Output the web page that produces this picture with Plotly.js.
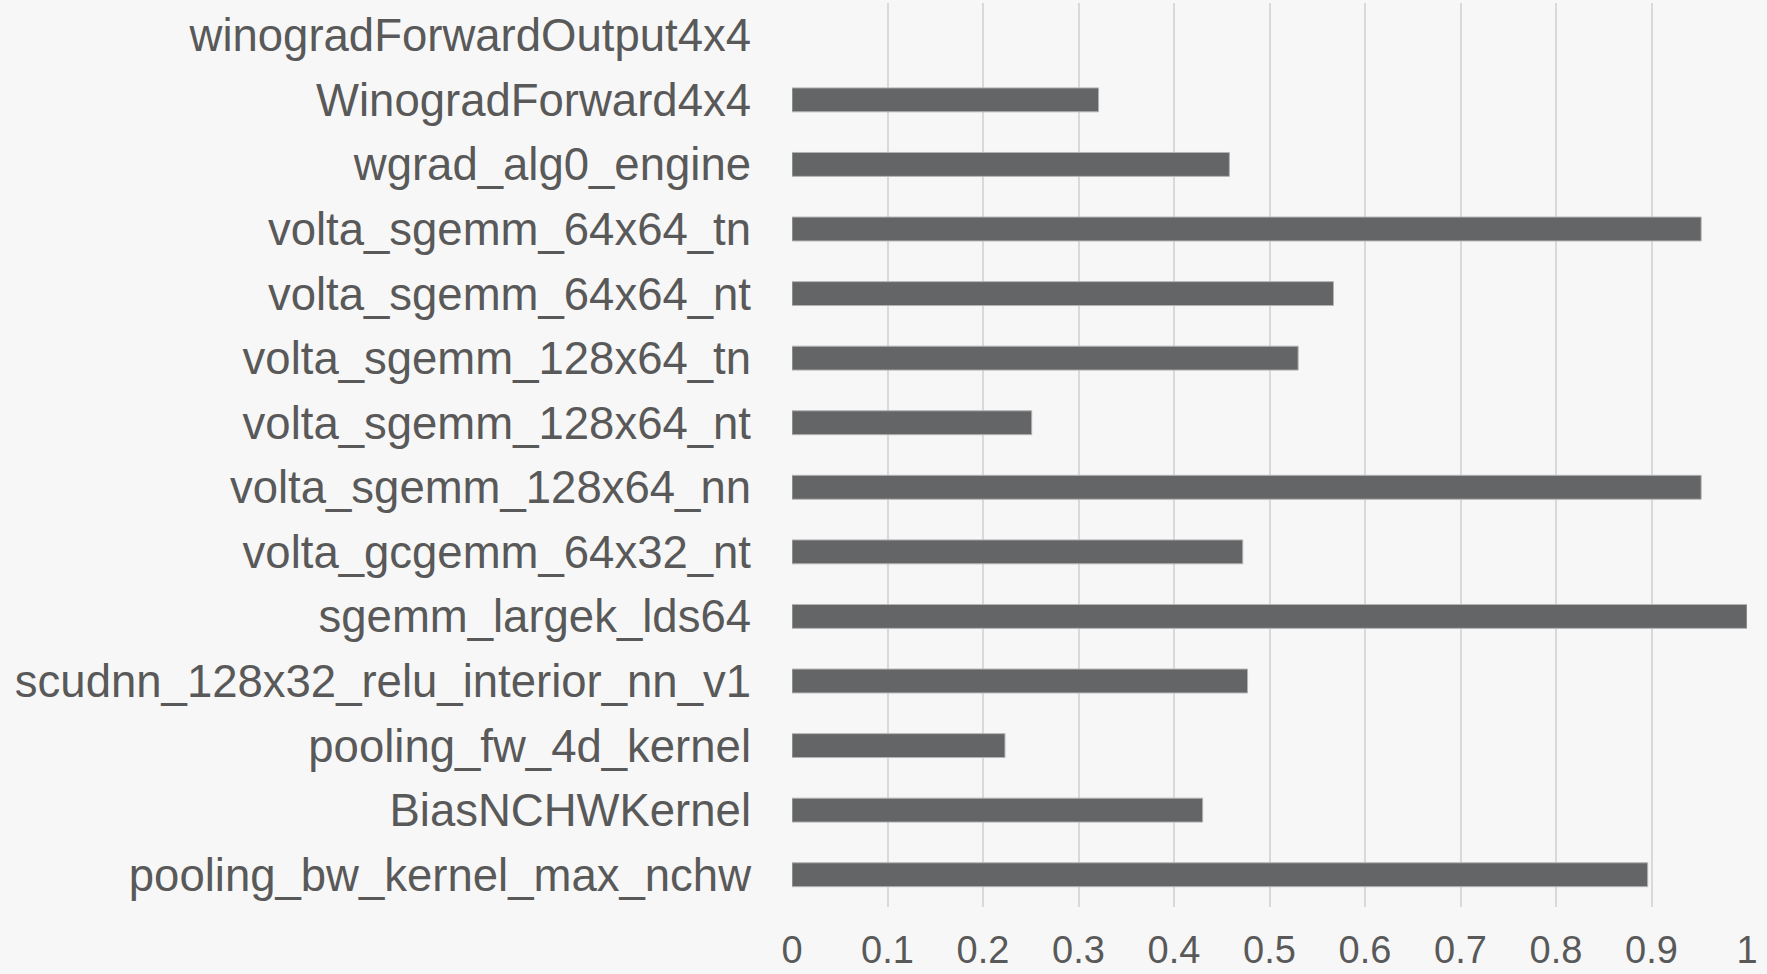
<!DOCTYPE html>
<html>
<head>
<meta charset="utf-8">
<script src="https://cdn.plot.ly/plotly-3.0.1.min.js"></script>
<style>
  html, body { margin: 0; padding: 0; background: #f7f7f7; }
  #chart { width: 1767px; height: 974px; }
</style>
</head>
<body>
<div id="chart"></div>
<script>
// Categories listed top to bottom as in the picture
const kernels = [
  "winogradForwardOutput4x4",
  "WinogradForward4x4",
  "wgrad_alg0_engine",
  "volta_sgemm_64x64_tn",
  "volta_sgemm_64x64_nt",
  "volta_sgemm_128x64_tn",
  "volta_sgemm_128x64_nt",
  "volta_sgemm_128x64_nn",
  "volta_gcgemm_64x32_nt",
  "sgemm_largek_lds64",
  "scudnn_128x32_relu_interior_nn_v1",
  "pooling_fw_4d_kernel",
  "BiasNCHWKernel",
  "pooling_bw_kernel_max_nchw"
];
const values = [0, 0.321, 0.458, 0.952, 0.567, 0.530, 0.251, 0.952, 0.472, 1.0, 0.477, 0.223, 0.430, 0.896];
const xTickVals = [0, 0.1, 0.2, 0.3, 0.4, 0.5, 0.6, 0.7, 0.8, 0.9, 1];
const xTickText = ["0", "0.1", "0.2", "0.3", "0.4", "0.5", "0.6", "0.7", "0.8", "0.9", "1"];

const trace = {
  type: "bar",
  orientation: "h",
  x: values,
  y: kernels,
  marker: {
    color: "#646567",
    line: { color: "#b3b3b3", width: values.map(v => (v > 0 ? 1 : 0)) }
  },
  hoverinfo: "x+y"
};

const layout = {
  width: 1767,
  height: 974,
  paper_bgcolor: "#f7f7f7",
  plot_bgcolor: "#f7f7f7",
  margin: { l: 792, r: 20, t: 3, b: 67, pad: 0 },
  bargap: 0.63,
  showlegend: false,
  font: { family: "Liberation Sans, Arial, sans-serif", color: "#595959" },
  xaxis: {
    range: [0, 1],
    tickmode: "array",
    tickvals: xTickVals,
    ticktext: xTickText,
    showgrid: true,
    gridcolor: "#d9d9d9",
    gridwidth: 2,
    zeroline: false,
    showline: false,
    ticks: "",
    ticklabelstandoff: 17,
    tickfont: { size: 38, color: "#595959" },
    fixedrange: true
  },
  yaxis: {
    type: "category",
    categoryorder: "array",
    categoryarray: kernels,
    autorange: "reversed",
    showgrid: false,
    zeroline: false,
    showline: false,
    ticks: "",
    ticklabelstandoff: 40,
    tickfont: { size: 45.5, color: "#595959" },
    fixedrange: true
  }
};

Plotly.newPlot("chart", [trace], layout, { displayModeBar: false, staticPlot: true });
</script>
</body>
</html>
